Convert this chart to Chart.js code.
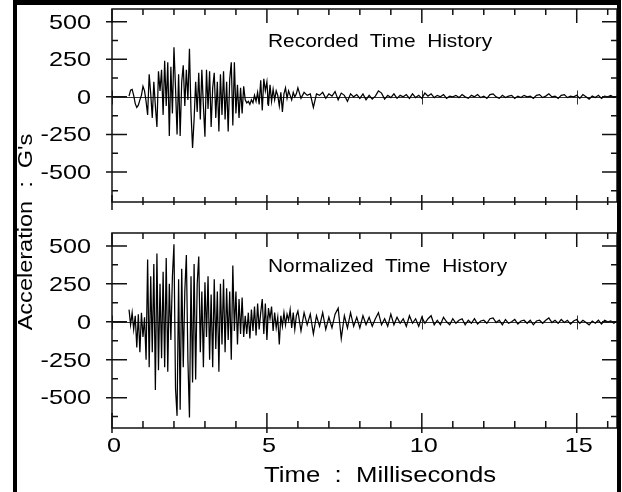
<!DOCTYPE html>
<html>
<head>
<meta charset="utf-8">
<script src="https://cdn.jsdelivr.net/npm/chart.js@4.4.1/dist/chart.umd.min.js"></script>
<style>
  html, body { margin: 0; padding: 0; background: #fff; }
  #page { position: relative; width: 622px; height: 492px; overflow: hidden; background: #fff;
          font-family: "Liberation Sans", Arial, sans-serif; color: #000; }
  canvas { position: absolute; left: 0; }
  #frame { position: absolute; left: 13px; top: 0; width: 608px; height: 492px; box-sizing: border-box;
           border-top: 5px solid #000; border-left: 4px solid #000; border-right: 4px solid #000; pointer-events: none; }
  .lbl { position: absolute; white-space: pre; font-size: 19px; line-height: 19px; transform-origin: 0 50%; }
  #ytitle { position: absolute; left: -75px; top: 220px; width: 200px; height: 24px; line-height: 24px;
            font-size: 21px; text-align: center; white-space: pre; transform: rotate(-90deg) scaleX(1.12); }
</style>
</head>
<body>
<div id="page">
  <canvas id="top" width="622" height="215" style="top:0"></canvas>
  <canvas id="bottom" width="622" height="277" style="top:215px"></canvas>
  <div class="lbl" style="left:268px; top:31px; transform:scaleX(1.1)">Recorded  Time  History</div>
  <div class="lbl" style="left:268px; top:256px; transform:scaleX(1.1)">Normalized  Time  History</div>
  <div class="lbl" style="left:264px; top:464px; font-size:22px; line-height:22px; transform:scaleX(1.17)">Time  :  Milliseconds</div>
  <div id="ytitle">Acceleration  :  G's</div>
  <div id="frame"></div>
</div>
<script>
// time axis, ms
const timeMs = [
  0.55,0.6,0.65,0.7,0.75,0.8,0.85,0.9,0.95,1.0,
  1.05,1.1,1.15,1.2,1.25,1.3,1.35,1.4,1.45,1.5,
  1.55,1.6,1.65,1.7,1.75,1.8,1.85,1.9,1.95,2.0,
  2.05,2.1,2.15,2.2,2.25,2.3,2.35,2.4,2.45,2.5,
  2.55,2.6,2.65,2.7,2.75,2.8,2.85,2.9,2.95,3.0,
  3.05,3.1,3.15,3.2,3.25,3.3,3.35,3.4,3.45,3.5,
  3.55,3.6,3.65,3.7,3.75,3.8,3.85,3.9,3.95,4.0,
  4.05,4.1,4.15,4.2,4.25,4.3,4.35,4.4,4.45,4.5,
  4.55,4.6,4.65,4.7,4.75,4.8,4.85,4.9,4.95,5.0,
  5.05,5.1,5.15,5.2,5.25,5.3,5.35,5.4,5.45,5.5,
  5.55,5.6,5.65,5.7,5.75,5.8,5.85,5.9,5.95,6.0,
  6.1,6.2,6.3,6.4,6.5,6.6,6.7,6.8,6.9,7.0,
  7.1,7.2,7.3,7.4,7.5,7.6,7.7,7.8,7.9,8.0,
  8.1,8.2,8.3,8.4,8.5,8.6,8.7,8.8,8.9,9.0,
  9.1,9.2,9.3,9.4,9.5,9.6,9.7,9.8,9.9,10.0,
  10.1,10.2,10.3,10.4,10.5,10.6,10.7,10.8,10.9,11.0,
  11.1,11.2,11.3,11.4,11.5,11.6,11.7,11.8,11.9,12.0,
  12.1,12.2,12.3,12.4,12.5,12.6,12.7,12.8,12.9,13.0,
  13.1,13.2,13.3,13.4,13.5,13.6,13.7,13.8,13.9,14.0,
  14.1,14.2,14.3,14.4,14.5,14.6,14.7,14.8,14.9,15.0,
  15.1,15.2,15.3,15.4,15.5,15.6,15.7,15.8,15.9,16.0,
  16.1,16.2,16.3
];

// recorded time history, G's
const recordedG = [
  5,45,50,10,-45,-70,-55,-20,10,70,
  40,-30,-120,150,20,-140,100,-60,-200,170,
  40,180,-120,240,-60,230,-260,200,-110,330,
  60,-250,150,-260,100,210,-60,180,-20,320,
  -100,-340,-150,100,-100,160,-150,180,-60,-265,
  180,-80,170,-200,60,160,-140,100,-230,150,
  -120,170,-150,100,-230,120,230,-190,230,-110,
  80,-140,60,-110,70,-20,-40,-30,-50,-20,
  -40,10,-30,30,-50,110,-90,120,40,100,
  -60,80,-30,50,-20,40,10,-60,30,-100,
  20,60,-10,40,10,-20,30,0,20,60,
  -10,30,10,20,-70,20,10,30,-10,20,
  5,35,-20,25,10,-30,20,0,15,-10,
  20,-20,10,-15,5,40,25,-15,10,-5,
  20,-10,10,0,15,-10,20,-5,10,-10,
  25,5,20,-5,10,0,15,-10,5,0,
  10,-5,15,0,-10,10,0,15,-5,5,
  -10,15,20,0,-10,10,-5,5,10,-10,
  5,-5,10,0,5,-10,10,15,-5,5,
  20,0,5,-10,10,15,-5,5,0,10,
  -10,15,0,-15,5,-5,10,-10,5,0,
  10,-5,5
];

// normalized time history, G's
const normalizedG = [
  80,-20,60,-50,40,-170,50,-200,60,-100,
  30,-250,410,-300,300,-200,380,-450,450,-320,
  250,-240,330,-300,420,-330,250,-120,300,510,
  -440,-620,280,-580,350,-300,200,440,-250,-630,
  300,-400,380,-380,250,430,-200,200,-300,260,
  -100,300,-250,180,-300,280,-180,200,-330,250,
  -150,280,-200,220,-120,200,-250,370,-60,200,
  -150,150,-80,160,-100,40,-80,60,-110,80,
  -60,100,-90,120,-50,60,150,-80,120,-120,
  90,20,100,-60,60,-40,30,-150,40,-30,
  60,-20,50,10,80,-40,60,-50,40,70,
  -60,60,-20,50,-80,40,-30,60,-50,30,
  -40,50,90,-110,40,-40,60,-30,30,-40,
  40,-20,30,-30,20,60,-20,20,-30,50,
  -20,30,-10,20,-30,40,-10,20,-30,30,
  -10,20,40,-20,10,-20,30,0,-20,20,
  -10,10,20,-20,10,-10,20,-15,5,10,
  -10,20,25,-5,10,-20,15,-10,0,15,
  -15,5,10,-10,10,-20,5,10,-10,10,
  25,-5,10,-10,15,-5,10,-15,5,15,
  -10,10,-5,-20,5,-10,10,-15,10,0,
  5,-10,5
];

const yTickValues = [500, 250, 0, -250, -500];
const yTickLabels = ['500', '250', '0', '-250', '-500'];
const yMinorValues = [375, 125, -125, -375, -625];
const xTickValues = [0, 5, 10, 15];
const xTickLabels = ['0', '5', '10', '15'];
const xMinorValues = [1, 2, 3, 4, 6, 7, 8, 9, 11, 12, 13, 14, 16];

const FONT = '21px "Liberation Sans", Arial, sans-serif';

function stretchedText(ctx, txt, x, y, align) {
  ctx.save();
  ctx.translate(x, y);
  ctx.scale(1.2, 1);
  ctx.textAlign = align;
  ctx.textBaseline = 'middle';
  ctx.fillText(txt, 0, 0);
  ctx.restore();
}

// frame, ticks, zero line and labels of one panel
const panelDecor = {
  id: 'panelDecor',
  beforeDatasetsDraw(chart) {
    const { ctx, chartArea: a, scales: { x, y } } = chart;
    const y0 = Math.round(y.getPixelForValue(0)) + 0.5;
    ctx.save();
    ctx.strokeStyle = '#333';
    ctx.lineWidth = 1;
    ctx.beginPath();
    ctx.moveTo(a.left, y0);
    ctx.lineTo(a.right, y0);
    xTickValues.forEach(v => {
      const px = Math.round(x.getPixelForValue(v)) + 0.5;
      ctx.moveTo(px, y0 - 7);
      ctx.lineTo(px, y0 + 7);
    });
    ctx.stroke();
    ctx.restore();
  },
  afterDatasetsDraw(chart, args, opts) {
    const { ctx, chartArea: a, scales: { x, y } } = chart;
    ctx.save();
    ctx.strokeStyle = '#111';
    ctx.lineWidth = 1.5;
    ctx.strokeRect(a.left, a.top, a.right - a.left, a.bottom - a.top);

    ctx.beginPath();
    // y ticks, both sides
    yTickValues.forEach(v => {
      const py = y.getPixelForValue(v);
      ctx.moveTo(a.left - 6, py); ctx.lineTo(a.left + 15, py);
      ctx.moveTo(a.right - 15, py); ctx.lineTo(a.right, py);
    });
    yMinorValues.forEach(v => {
      const py = y.getPixelForValue(v);
      ctx.moveTo(a.left, py); ctx.lineTo(a.left + 6, py);
      ctx.moveTo(a.right - 6, py); ctx.lineTo(a.right, py);
    });
    // x ticks, top and bottom
    xTickValues.forEach(v => {
      const px = x.getPixelForValue(v);
      ctx.moveTo(px, a.top); ctx.lineTo(px, a.top + 14);
      ctx.moveTo(px, a.bottom - opts.majorIn); ctx.lineTo(px, a.bottom + opts.majorOut);
    });
    xMinorValues.forEach(v => {
      const px = x.getPixelForValue(v);
      ctx.moveTo(px, a.top); ctx.lineTo(px, a.top + 6);
      ctx.moveTo(px, a.bottom - opts.minorIn); ctx.lineTo(px, a.bottom + opts.minorOut);
    });
    ctx.stroke();

    ctx.fillStyle = '#000';
    ctx.font = FONT;
    yTickValues.forEach((v, i) => {
      stretchedText(ctx, yTickLabels[i], a.left - 21, y.getPixelForValue(v) + 1, 'right');
    });
    if (opts.xLabels) {
      xTickValues.forEach((v, i) => {
        stretchedText(ctx, xTickLabels[i], x.getPixelForValue(v) + 2, a.bottom + 18, 'center');
      });
    }
    ctx.restore();
  }
};

function makePanel(id, values, padding, decor) {
  const pts = timeMs.map((t, i) => ({ x: t, y: values[i] }));
  return new Chart(document.getElementById(id), {
    type: 'line',
    data: {
      datasets: [{
        data: pts,
        borderColor: '#000',
        borderWidth: 1.25,
        pointRadius: 0,
        tension: 0,
        fill: false,
      }],
    },
    options: {
      responsive: false,
      animation: false,
      devicePixelRatio: 1,
      layout: { padding: padding },
      plugins: {
        legend: { display: false },
        tooltip: { enabled: false },
        panelDecor: decor,
      },
      scales: {
        x: { type: 'linear', min: 0, max: 16.3, display: false },
        y: { min: -700, max: 585, display: false },
      },
    },
    plugins: [panelDecor],
  });
}

makePanel('top', recordedG, { left: 112, right: 5, top: 9, bottom: 13 },
  { xLabels: false, majorIn: 7, majorOut: 8, minorIn: 5, minorOut: 3 });
makePanel('bottom', normalizedG, { left: 112, right: 5, top: 18, bottom: 64 },
  { xLabels: true, majorIn: 15, majorOut: 5, minorIn: 7, minorOut: 0 });
</script>
</body>
</html>
